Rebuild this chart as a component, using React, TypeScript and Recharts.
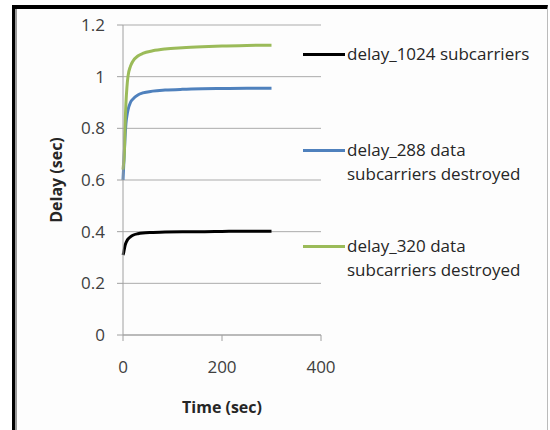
import React from 'react';
import { LineChart, Line, XAxis, YAxis, CartesianGrid, Legend, Label } from 'recharts';

// time in seconds
const times = [0, 1, 2, 3, 4, 6, 8, 10, 15, 20, 30, 40, 60, 85, 120, 160, 200, 250, 300];
const delay1024 = [0.31, 0.316, 0.325, 0.335, 0.345, 0.357, 0.365, 0.371, 0.38, 0.386, 0.392, 0.395, 0.397, 0.399, 0.4, 0.4, 0.401, 0.402, 0.402];
const delay288 = [0.6, 0.64, 0.68, 0.72, 0.76, 0.82, 0.85, 0.87, 0.9, 0.913, 0.929, 0.937, 0.944, 0.948, 0.951, 0.953, 0.954, 0.955, 0.955];
const delay320 = [0.64, 0.66, 0.68, 0.72, 0.8, 0.9, 0.96, 1.0, 1.04, 1.06, 1.08, 1.09, 1.1, 1.107, 1.112, 1.116, 1.119, 1.121, 1.122];

const xTicks = [0, 200, 400];
const yTicks = [0, 0.2, 0.4, 0.6, 0.8, 1, 1.2];

const seriesKeys = ['d1024', 'd288', 'd320'];
const seriesNames = [
  'delay_1024 subcarriers',
  'delay_288 data subcarriers destroyed',
  'delay_320 data subcarriers destroyed',
];
const seriesColors = ['#000000', '#4F81BD', '#9BBB59'];

const data = times.map((t, i) => ({
  t,
  d1024: delay1024[i],
  d288: delay288[i],
  d320: delay320[i],
}));

const FONT = '"Open Sans", sans-serif';
const legendTops = [42, 138, 234];

function LegendBox(props: any) {
  const payload = props.payload || [];
  return (
    <div style={{ position: 'relative', width: 245, height: 300, fontFamily: FONT }}>
      {payload.map((p: any, i: number) => {
        const words = String(p.value).split(' ');
        const lines = words.length > 2 ? [words.slice(0, 2).join(' '), words.slice(2).join(' ')] : [p.value];
        return (
          <div key={i} style={{ position: 'absolute', left: 0, top: legendTops[i], width: 245 }}>
            <div style={{ position: 'absolute', left: 0, top: 10.5, width: 42, height: 3, background: p.color }} />
            <div style={{ position: 'absolute', left: 44, top: 0, fontSize: 17, lineHeight: '24px', color: '#262626', whiteSpace: 'nowrap' }}>
              {lines.map((l: string, j: number) => <div key={j}>{l}</div>)}
            </div>
          </div>
        );
      })}
    </div>
  );
}

export default function App() {
  return (
    <div style={{ position: 'absolute', left: 0, top: 0, width: 550, height: 430, overflow: 'hidden', background: '#fff' }}>
      <div
        style={{
          position: 'absolute',
          left: 12,
          top: 5,
          width: 532,
          height: 440,
          background: '#fdfdfd',
          borderTop: '4px solid #000',
          borderLeft: '3px solid #000',
          borderRight: '1px solid #bbb',
          boxShadow: 'inset 2px 0 0 #9a9a9a',
        }}
      />
      <div style={{ position: 'absolute', left: 0, top: 0 }}>
        <LineChart
          width={550}
          height={430}
          data={data}
          margin={{ top: 25, right: 229, bottom: 35, left: 23 }}
          style={{ fontFamily: FONT }}
        >
          <CartesianGrid vertical={false} stroke="#ababab" strokeWidth={1} />
          <XAxis
            dataKey="t"
            type="number"
            domain={[0, 400]}
            ticks={xTicks}
            height={60}
            tickSize={6}
            tickMargin={20}
            axisLine={{ stroke: '#a0a0a0' }}
            tickLine={{ stroke: '#a0a0a0' }}
            tick={{ fill: '#404040', fontSize: 17 }}
          >
            <Label value="Time (sec)" position="center" dy={42} style={{ fontWeight: 'bold', fontSize: 16, fill: '#262626' }} />
          </XAxis>
          <YAxis
            type="number"
            domain={[0, 1.2]}
            ticks={yTicks}
            width={100}
            tickSize={6}
            tickMargin={12}
            interval={0}
            tickFormatter={(v: number) => String(Number(v.toFixed(1)))}
            axisLine={{ stroke: '#a0a0a0' }}
            tickLine={{ stroke: '#a0a0a0' }}
            tick={{ fill: '#404040', fontSize: 17 }}
          >
            <Label value="Delay (sec)" position="center" angle={-90} dx={-17} style={{ fontWeight: 'bold', fontSize: 16, fill: '#262626', textAnchor: 'middle' }} />
          </YAxis>
          <Legend
            layout="vertical"
            align="center"
            verticalAlign="middle"
            wrapperStyle={{ position: 'absolute', left: 303, top: 0, width: 245, height: 300 }}
            content={(p: any) => <LegendBox {...p} />}
          />
          {seriesKeys.map((k, i) => (
            <Line
              key={k}
              type="monotone"
              dataKey={k}
              name={seriesNames[i]}
              stroke={seriesColors[i]}
              strokeWidth={3}
              dot={false}
              isAnimationActive={false}
            />
          ))}
        </LineChart>
      </div>
    </div>
  );
}
